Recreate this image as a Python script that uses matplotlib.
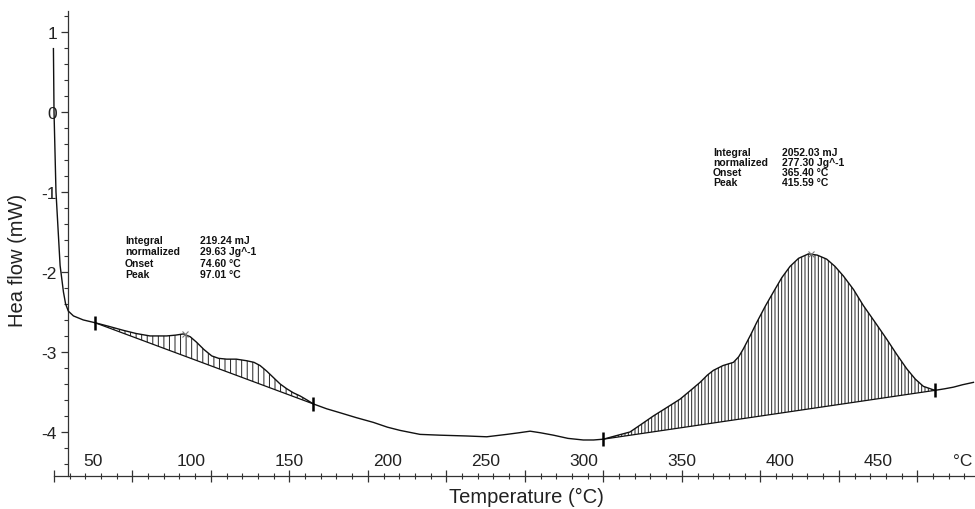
import matplotlib.pyplot as plt
import matplotlib.transforms as mtransforms
import numpy as np

plt.rcParams['font.family'] = ['Liberation Sans', 'DejaVu Sans']
plt.rcParams['axes.unicode_minus'] = False
plt.rcParams['hatch.linewidth'] = 0.7

# DSC curve, temperature (°C) vs heat flow (mW)
temp = [29.8, 30.1, 31.1, 33.2, 34.9, 36.0, 37.4, 40.0, 45.0, 51.0,
        58.0, 65.4, 72.0, 79.0, 87.5, 92.0, 96.0, 99.5, 102.8, 106.5,
        110.5, 114.0, 118.1, 123.0, 128.3, 132.0, 135.1, 138.5, 141.9, 145.3,
        148.7, 152.0, 155.5, 159.0, 162.3, 169.0, 175.9, 184.0, 192.8, 200.0,
        206.4, 216.6, 226.8, 240.4, 250.6, 260.8, 267.0, 272.7, 278.0, 284.6,
        292.0, 299.8, 305.0, 310.0, 316.0, 323.6, 329.0, 335.5, 342.0, 349.1,
        354.0, 359.3, 363.0, 366.1, 371.0, 376.3, 379.0, 381.4, 385.0, 388.2,
        392.5, 396.7, 401.0, 405.2, 409.5, 414.5, 419.0, 423.8, 428.0, 432.3,
        437.5, 442.5, 448.5, 454.4, 459.5, 464.6, 469.0, 473.1, 479.0, 484.0,
        488.4, 493.0, 498.6]
heat = [0.79, 0.00, -1.00, -1.92, -2.25, -2.40, -2.49, -2.55, -2.60, -2.635,
        -2.68, -2.73, -2.77, -2.80, -2.80, -2.79, -2.775, -2.81, -2.88, -2.97,
        -3.05, -3.08, -3.09, -3.09, -3.11, -3.13, -3.17, -3.24, -3.32, -3.40,
        -3.46, -3.51, -3.55, -3.60, -3.65, -3.71, -3.76, -3.82, -3.88, -3.94,
        -3.98, -4.03, -4.04, -4.05, -4.06, -4.03, -4.01, -3.99, -4.01, -4.04,
        -4.08, -4.10, -4.10, -4.09, -4.05, -4.00, -3.91, -3.80, -3.70, -3.59,
        -3.49, -3.38, -3.29, -3.23, -3.17, -3.13, -3.06, -2.96, -2.79, -2.63,
        -2.43, -2.25, -2.07, -1.93, -1.83, -1.775, -1.79, -1.84, -1.93, -2.05,
        -2.22, -2.42, -2.63, -2.84, -3.03, -3.21, -3.34, -3.43, -3.48, -3.46,
        -3.44, -3.41, -3.38]

# integration limits (start, end) of both peaks
limits = [(51.0, 162.3), (310.0, 479.0)]
peak_t = [97.01, 415.59]
peak_v = [-2.775, -1.775]

labels_left = ["Integral", "normalized", "Onset", "Peak"]
values1 = ["219.24 mJ", "29.63 Jg^-1", "74.60 \u00b0C", "97.01 \u00b0C"]
values2 = ["2052.03 mJ", "277.30 Jg^-1", "365.40 \u00b0C", "415.59 \u00b0C"]

xtick_labels = [50, 100, 150, 200, 250, 300, 350, 400, 450]

temp = np.array(temp)
heat = np.array(heat)

fig = plt.figure(figsize=(9.75, 5.1), dpi=100)
ax = fig.add_axes([34 / 975, 1 - 477 / 510, 941 / 975, 465 / 510])
ax.set_xlim(19.9, 499.4)
ax.set_ylim(-4.55, 1.26)

ax.plot(temp, heat, color='#111111', lw=1.0, clip_on=False, zorder=3)

# hatched integral areas with linear baselines
hatches = ['|||', '|||||']
for (t0, t1), h in zip(limits, hatches):
    m = (temp >= t0) & (temp <= t1)
    tt = temp[m]
    v0 = np.interp(t0, temp, heat)
    v1 = np.interp(t1, temp, heat)
    base = v0 + (tt - t0) * (v1 - v0) / (t1 - t0)
    ax.plot([t0, t1], [v0, v1], color='#111111', lw=0.9, zorder=3)
    ax.fill_between(tt, heat[m], base, facecolor='none', edgecolor='#222222',
                    hatch=h, linewidth=0, zorder=2)
    ax.plot([t0, t1], [v0, v1], ls='none', marker='|', ms=10, mew=1.8,
            color='black', zorder=4)

ax.plot(peak_t, peak_v, ls='none', marker='x', ms=4, mew=0.8,
        color='#777777', zorder=4)

# text blocks
for x1, x2, y0, dy, vals in [(66.3, 104.5, -1.60, 0.143, values1),
                             (365.9, 401.1, -0.50, 0.125, values2)]:
    for i, (a, b) in enumerate(zip(labels_left, vals)):
        ax.text(x1, y0 - i * dy, a, fontsize=7.5, fontweight='bold', va='center',
                color='#111111')
        ax.text(x2, y0 - i * dy, b, fontsize=7.5, fontweight='bold', va='center',
                color='#111111')

# axes styling
for s in ['top', 'right']:
    ax.spines[s].set_visible(False)
ax.spines['left'].set_position(('data', 37.3))
ax.spines['left'].set_bounds(-4.55, 1.26)
ax.spines['bottom'].set_bounds(30, 499.4)
for s in ['left', 'bottom']:
    ax.spines[s].set_linewidth(0.9)
    ax.spines[s].set_color('#333333')

ax.set_yticks(np.arange(-4, 2, 1))
ax.set_yticks(np.arange(-4.4, 1.25, 0.2), minor=True)
ax.tick_params(axis='y', which='major', direction='out', length=5, width=0.9,
               labelsize=12.5, pad=3, colors='#333333', labelcolor='#222222')
ax.tick_params(axis='y', which='minor', direction='out', length=3, width=0.8,
               colors='#333333')

ax.set_xticks(np.arange(30, 471, 40))
ax.set_xticks(np.arange(38, 499, 8), minor=True)
ax.tick_params(axis='x', which='major', direction='inout', length=9, width=0.9,
               labelbottom=False, colors='#333333')
ax.tick_params(axis='x', which='minor', direction='inout', length=5, width=0.8,
               colors='#333333')

trans = mtransforms.blended_transform_factory(ax.transData, ax.transAxes)
for t in xtick_labels:
    ax.text(t, 0.033, str(t), transform=trans, ha='center', va='center',
            fontsize=12.5, color='#222222')
ax.text(493.3, 0.033, '\u00b0C', transform=trans, ha='center', va='center',
        fontsize=12.5, color='#222222')

fig.text(526 / 975, 1 - 497 / 510, 'Temperature (\u00b0C)', ha='center',
         va='center', fontsize=14.5, color='#222222')
fig.text(18 / 975, 1 - 260 / 510, 'Hea flow (mW)', ha='center', va='center',
         rotation=90, fontsize=14.5, color='#222222')

fig.savefig('out.png', dpi=100)
